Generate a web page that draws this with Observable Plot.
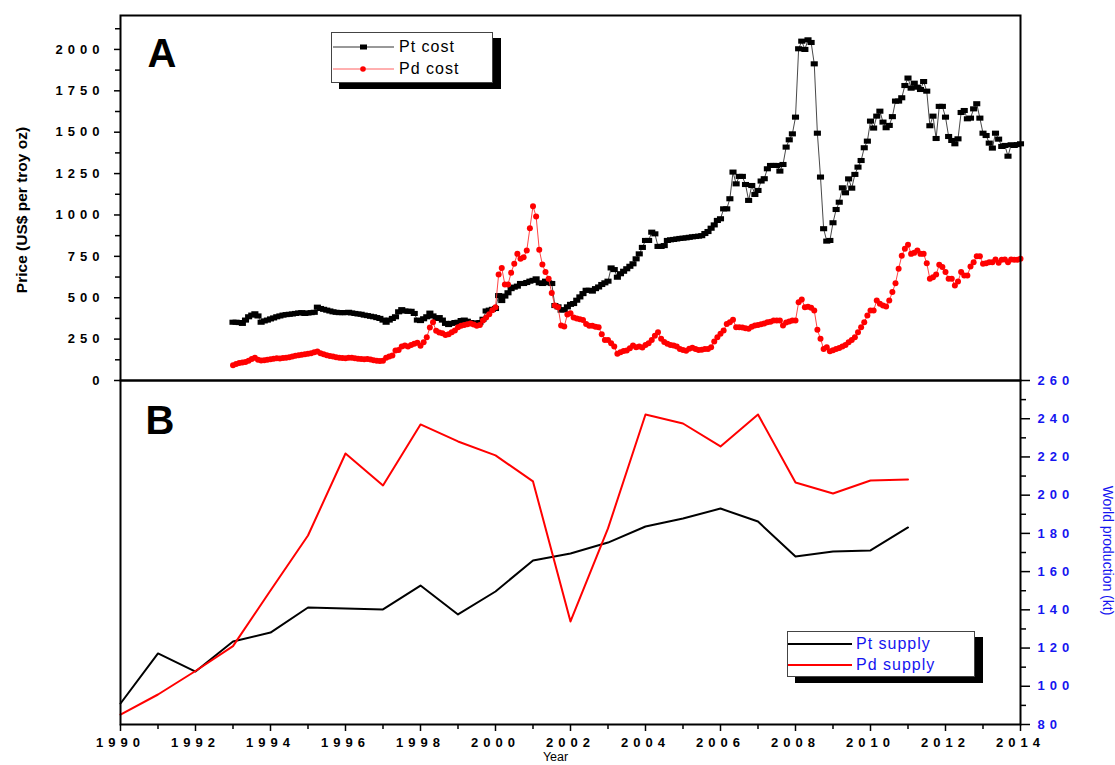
<!DOCTYPE html>
<html>
<head>
<meta charset="utf-8">
<script src="https://cdn.jsdelivr.net/npm/d3@7"></script>
<script src="https://cdn.jsdelivr.net/npm/@observablehq/plot@0.6"></script>
<style>
  body { margin: 0; background: #fff; font-family: "Liberation Sans", Arial, sans-serif; }
  #wrap { position: relative; width: 1115px; height: 765px; overflow: hidden; background: #fff; }
  #wrap > svg { position: absolute; left: 0; overflow: visible; }
  #panelA { top: 0; }
  #panelB { top: 380px; }
  g[aria-label$="tick label"] { letter-spacing: 5px; font-weight: bold; }
  .legend { position: absolute; background: #fff; border: 1px solid #444; box-shadow: 8px 6px 0 #000; box-sizing: border-box; }
  .legend .row { position: absolute; left: 0; height: 16px; display: flex; align-items: center; }
  .legend .row svg { display: block; }
  .legend .row span { font-size: 16px; letter-spacing: 1px; line-height: 16px; white-space: nowrap; }
</style>
</head>
<body>
<div id="wrap"></div>
<script>
// ---------- Panel A: monthly prices (US$ per troy oz), Jan 1993 .. Jan 2014 ----------
const costStartYear = 1993;
const ptCost = [
  352, 352, 350, 345, 365, 385, 395, 403, 390, 352, 360, 365,          // 1993
  372, 378, 385, 390, 395, 398, 400, 402, 405, 408, 410, 405,          // 1994
  408, 410, 412, 443, 435, 430, 425, 420, 415, 412, 410, 410,          // 1995
  410, 412, 408, 405, 402, 400, 395, 392, 388, 385, 380, 375,          // 1996
  365, 352, 365, 375, 385, 415, 428, 420, 418, 418, 405, 365,          // 1997
  362, 373, 385, 407, 390, 375, 380, 365, 345, 338, 345, 350,          // 1998
  352, 362, 365, 358, 350, 348, 345, 350, 370, 420, 425, 430,          // 1999
  435, 513, 483, 510, 530, 555, 564, 570, 586, 586, 592, 600,          // 2000
  605, 614, 590, 586, 600, 590, 586, 453, 445, 425, 428, 445,          // 2001
  460, 465, 485, 505, 525, 545, 545, 540, 555, 565, 580, 590,          // 2002
  600, 680, 670, 624, 645, 660, 675, 690, 705, 735, 765, 804,          // 2003
  846, 846, 896, 886, 810, 810, 815, 846, 850, 852, 855, 858,          // 2004
  860, 862, 865, 868, 870, 872, 875, 888, 900, 920, 940, 967,          // 2005
  977, 1037, 1037, 1098, 1259, 1188, 1233, 1233, 1184, 1088, 1178, 1124, // 2006
  1148, 1205, 1219, 1279, 1299, 1299, 1299, 1265, 1305, 1410, 1454, 1490, // 2007
  1591, 2004, 2050, 2000, 2058, 2042, 1913, 1494, 1229, 917, 842, 846,  // 2008
  953, 1033, 1077, 1164, 1134, 1218, 1162, 1245, 1289, 1329, 1406, 1446, // 2009
  1567, 1525, 1597, 1627, 1561, 1527, 1541, 1594, 1688, 1688, 1708, 1782, // 2010
  1827, 1766, 1796, 1772, 1758, 1806, 1748, 1539, 1597, 1462, 1656, 1656, // 2011
  1591, 1474, 1450, 1430, 1460, 1619, 1631, 1581, 1585, 1641, 1672, 1585, // 2012
  1494, 1480, 1434, 1404, 1494, 1458, 1414, 1420, 1355, 1424, 1420, 1425, // 2013
  1430                                                                  // 2014
];
const pdCost = [
  92, 100, 105, 108, 112, 120, 130, 137, 126, 121, 122, 125,           // 1993
  128, 132, 135, 133, 136, 138, 140, 145, 150, 152, 155, 158,          // 1994
  162, 165, 170, 175, 165, 158, 152, 148, 145, 140, 138, 136,          // 1995
  135, 137, 138, 135, 132, 130, 128, 130, 127, 122, 120, 118,          // 1996
  120, 137, 145, 151, 181, 185, 205, 211, 205, 215, 222, 228,          // 1997
  210, 231, 262, 320, 352, 300, 290, 285, 275, 280, 292, 302,          // 1998
  322, 330, 335, 340, 344, 338, 330, 335, 362, 380, 400, 425,          // 1999
  443, 640, 679, 580, 580, 651, 705, 765, 735, 745, 785, 920,          // 2000
  1053, 991, 790, 701, 655, 614, 528, 453, 443, 332, 326, 399,         // 2001
  407, 380, 374, 370, 365, 342, 330, 330, 325, 322, 280, 245,          // 2002
  245, 225, 205, 161, 171, 178, 181, 195, 211, 201, 205, 200,          // 2003
  215, 225, 245, 270, 292, 252, 232, 222, 215, 211, 205, 190,          // 2004
  185, 180, 192, 198, 190, 185, 186, 190, 190, 201, 235, 262,          // 2005
  282, 302, 342, 352, 367, 322, 322, 320, 315, 312, 325, 332,          // 2006
  335, 340, 345, 352, 355, 362, 362, 362, 332, 350, 357, 362,          // 2007
  362, 473, 490, 443, 445, 440, 423, 306, 252, 191, 201, 177,          // 2008
  183, 191, 196, 205, 215, 231, 245, 262, 292, 322, 352, 393,          // 2009
  423, 423, 483, 463, 453, 447, 483, 534, 588, 675, 753, 796,          // 2010
  820, 765, 771, 785, 765, 765, 709, 614, 624, 640, 699, 685,          // 2011
  655, 614, 614, 574, 598, 655, 634, 634, 689, 715, 751, 751,          // 2012
  705, 709, 715, 715, 731, 711, 729, 731, 715, 731, 729, 730,          // 2013
  735                                                                   // 2014
];
const priceTicks = [0, 250, 500, 750, 1000, 1250, 1500, 1750, 2000];
const priceMinorTicks = [125, 375, 625, 875, 1125, 1375, 1625, 1875, 2125];

// ---------- Panel B: annual world supply ----------
const supplyYears = [1990, 1991, 1992, 1993, 1994, 1995, 1996, 1997, 1998, 1999, 2000,
                     2001, 2002, 2003, 2004, 2005, 2006, 2007, 2008, 2009, 2010, 2011];
const ptSupply = [91.0, 117.2, 107.7, 123.4, 128.1, 141.2, 140.7, 140.2, 152.7, 137.6, 149.6,
                  165.8, 169.5, 175.2, 183.6, 187.8, 193.0, 186.2, 167.9, 170.5, 171.1, 183.1];
const pdSupply = [85.2, 95.7, 108.0, 121.0, 150.1, 178.9, 221.8, 205.1, 237.0, 228.1, 220.8,
                  207.2, 133.9, 182.6, 242.2, 237.5, 225.5, 242.2, 206.6, 200.9, 207.7, 208.2];
const supplyTicks = [80, 100, 120, 140, 160, 180, 200, 220, 240, 260];
const supplyMinorTicks = [90, 110, 130, 150, 170, 190, 210, 230, 250];
const yearTicks = [1990, 1992, 1994, 1996, 1998, 2000, 2002, 2004, 2006, 2008, 2010, 2012, 2014];
const yearMinorTicks = [1991, 1993, 1995, 1997, 1999, 2001, 2003, 2005, 2007, 2009, 2011, 2013];

// ---------- build tables ----------
const ptRows = ptCost.map((v, i) => ({t: costStartYear + i / 12, v}));
const pdRows = pdCost.map((v, i) => ({t: costStartYear + i / 12, v}));
const supplyRows = supplyYears.map((year, i) => ({year, pt: ptSupply[i], pd: pdSupply[i]}));

const FONT = '"Liberation Sans", Arial, sans-serif';
const BLUE = "#1515f0";

// rectangular marker (wider than tall), drawn by Plot.dot
const rectSymbol = {
  draw(ctx, size) {
    const s = Math.sqrt(size), w = s * 0.5, h = s * 0.36;
    ctx.moveTo(-w, -h); ctx.lineTo(w, -h); ctx.lineTo(w, h); ctx.lineTo(-w, h); ctx.closePath();
  }
};

const common = {
  width: 1115,
  marginLeft: 120,
  marginRight: 95,
  style: {background: "transparent", overflow: "visible", fontFamily: FONT, color: "black"}
};

const plotA = Plot.plot({
  ...common,
  height: 381,
  marginTop: 15,
  marginBottom: 1,
  x: {domain: [1990, 2014], axis: null},
  y: {domain: [0, 2205], label: null},
  marks: [
    Plot.axisY({ticks: priceMinorTicks, tickSize: 5, fill: "none", strokeWidth: 1.5}),
    Plot.axisY({ticks: priceTicks, tickSize: 6, tickPadding: 10, strokeWidth: 1.5,
                tickFormat: d => String(d), label: null, fontSize: 13, fontWeight: "bold"}),
    Plot.line(ptRows, {x: "t", y: "v", stroke: "#333", strokeWidth: 0.9}),
    Plot.dot(ptRows, {x: "t", y: "v", r: 4, symbol: rectSymbol, fill: "#000", stroke: "none"}),
    Plot.line(pdRows, {x: "t", y: "v", stroke: "#ff3030", strokeWidth: 0.9}),
    Plot.dot(pdRows, {x: "t", y: "v", r: 3, fill: "#ff0000", stroke: "none"}),
    Plot.frame({stroke: "#000", strokeWidth: 2}),
    Plot.text(["A"], {frameAnchor: "top-left", dx: 27, dy: 23, fontSize: 40, fontWeight: "bold",
                      fill: "#000", lineAnchor: "top"}),
    Plot.text(["Price (US$ per troy oz)"], {frameAnchor: "left", rotate: -90, dx: -98, dy: 12,
                      textAnchor: "middle", fontSize: 15.5, fontWeight: "bold", fill: "#000"})
  ]
});
plotA.id = "panelA";

const plotB = Plot.plot({
  ...common,
  height: 385,
  marginTop: 0,
  marginBottom: 41,
  x: {domain: [1990, 2014], label: null},
  y: {domain: [80, 260], label: null},
  marks: [
    Plot.axisX({ticks: yearMinorTicks, tickSize: 5, fill: "none", strokeWidth: 1.5}),
    Plot.axisX({ticks: yearTicks, tickSize: 7, tickPadding: 6, strokeWidth: 1.5,
                tickFormat: d => String(d), label: null, fontSize: 13, fontWeight: "bold"}),
    Plot.axisY({anchor: "right", ticks: supplyMinorTicks, tickSize: 5, fill: "none", strokeWidth: 1.5}),
    Plot.axisY({anchor: "right", ticks: supplyTicks, tickSize: 9, tickPadding: 8, strokeWidth: 1.5,
                stroke: "#000", fill: BLUE, tickFormat: d => String(d), label: null,
                fontSize: 13, fontWeight: "bold"}),
    Plot.line(supplyRows, {x: "year", y: "pt", stroke: "#000", strokeWidth: 2}),
    Plot.line(supplyRows, {x: "year", y: "pd", stroke: "#ff0000", strokeWidth: 2}),
    Plot.frame({stroke: "#000", strokeWidth: 2}),
    Plot.text(["B"], {frameAnchor: "top-left", dx: 25, dy: 25, fontSize: 40, fontWeight: "bold",
                      fill: "#000", lineAnchor: "top"}),
    Plot.text(["World production (kt)"], {frameAnchor: "right", rotate: 90, dx: 87, dy: -2,
                      textAnchor: "middle", fontSize: 14, fill: BLUE,
                      fontFamily: '"Liberation Sans Narrow", "Liberation Sans", Arial, sans-serif'}),
    Plot.text(["Year"], {frameAnchor: "bottom", dx: -15, dy: 28, lineAnchor: "top",
                      textAnchor: "middle", fontSize: 12.5, fill: "#000"})
  ]
});
plotB.id = "panelB";

const wrap = document.getElementById("wrap");
wrap.appendChild(plotA);
wrap.appendChild(plotB);

// ---------- legends ----------
function legend(left, top, width, height, items, textColor, textLeft) {
  const box = document.createElement("div");
  box.className = "legend";
  Object.assign(box.style, {left: left + "px", top: top + "px", width: width + "px", height: height + "px"});
  items.forEach(it => {
    const row = document.createElement("div");
    row.className = "row";
    row.style.top = it.top + "px";
    row.innerHTML = it.swatch + `<span style="color:${textColor};margin-left:${textLeft - it.swW}px">${it.label}</span>`;
    box.appendChild(row);
  });
  wrap.appendChild(box);
}
legend(331, 32, 162, 51, [
  {top: 6, swW: 62, label: "Pt cost",
   swatch: '<svg width="62" height="16"><line x1="1" x2="62" y1="8" y2="8" stroke="#333" stroke-width="1"/><rect x="28" y="5.5" width="7" height="5" fill="#000"/></svg>'},
  {top: 28, swW: 62, label: "Pd cost",
   swatch: '<svg width="62" height="16"><line x1="1" x2="62" y1="8" y2="8" stroke="#ff6060" stroke-width="1"/><circle cx="31" cy="8" r="2.8" fill="#ff0000"/></svg>'}
], "#000", 67);
legend(787, 631, 188, 46, [
  {top: 4, swW: 64, label: "Pt supply",
   swatch: '<svg width="64" height="16"><line x1="0" x2="64" y1="8" y2="8" stroke="#000" stroke-width="2"/></svg>'},
  {top: 25, swW: 64, label: "Pd supply",
   swatch: '<svg width="64" height="16"><line x1="0" x2="64" y1="8" y2="8" stroke="#ff0000" stroke-width="2"/></svg>'}
], BLUE, 68);
</script>
</body>
</html>
